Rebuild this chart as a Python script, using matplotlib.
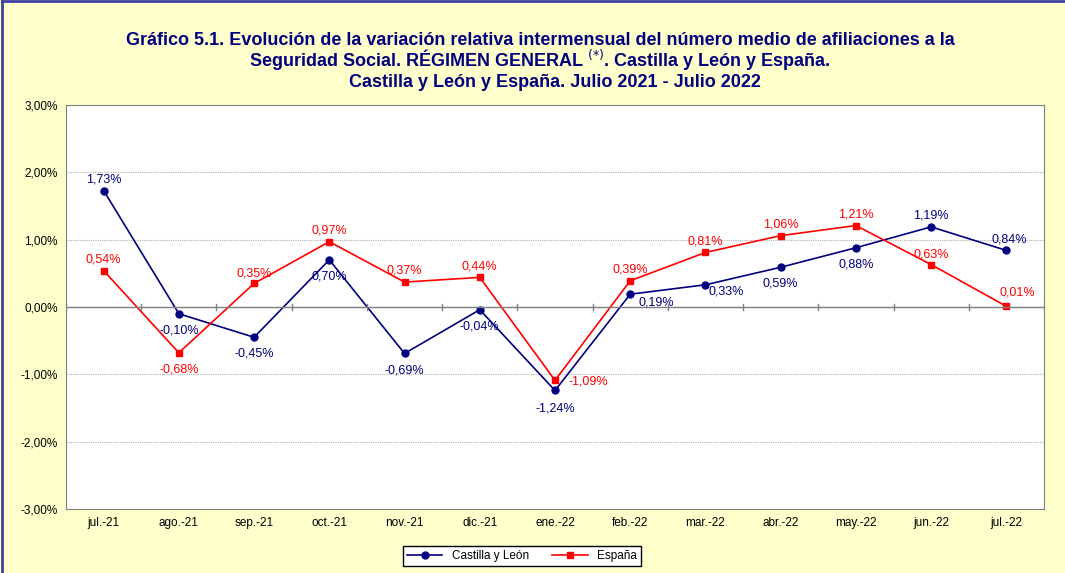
import matplotlib.pyplot as plt
from matplotlib.ticker import FuncFormatter

plt.rcParams['font.family'] = ['Liberation Sans', 'DejaVu Sans']

meses = ["jul.-21", "ago.-21", "sep.-21", "oct.-21", "nov.-21", "dic.-21", "ene.-22",
         "feb.-22", "mar.-22", "abr.-22", "may.-22", "jun.-22", "jul.-22"]
cyl = [1.73, -0.10, -0.45, 0.70, -0.69, -0.04, -1.24, 0.19, 0.33, 0.59, 0.88, 1.19, 0.84]
esp = [0.54, -0.68, 0.35, 0.97, 0.37, 0.44, -1.09, 0.39, 0.81, 1.06, 1.21, 0.63, 0.01]

# posicion de las etiquetas (offset en puntos)
pos_cyl = [(0, 8), (0, -12), (0, -12), (0, -12), (0, -12), (0, -12), (0, -13),
           (19, -6), (15, -5), (0, -12), (0, -12), (0, 8), (2, 8)]
pos_esp = [(0, 8), (0, -12), (0, 7), (0, 8), (0, 8), (0, 8), (24, -1),
           (0, 8), (0, 8), (0, 8), (0, 8), (0, 7), (8, 10)]

azul = "#000080"
rojo = "#FF0000"

fig = plt.figure(figsize=(10.65, 5.73), dpi=100, facecolor="#FFFFCC")
ax = fig.add_axes([66/1065, 1 - 509/573, (1044-66)/1065, (509-105)/573])

x = list(range(len(meses)))
ax.plot(x, cyl, color=azul, marker="o", markersize=5, lw=1.2, label="Castilla y León")
ax.plot(x, esp, color=rojo, marker="s", markersize=5, lw=1.2, label="España")

def pct(v):
    return ("%.2f%%" % v).replace(".", ",")

for i in x:
    ax.annotate(pct(cyl[i]), (i, cyl[i]), xytext=pos_cyl[i], textcoords="offset points",
                ha="center", va="center", fontsize=9, color=azul)
    ax.annotate(pct(esp[i]), (i, esp[i]), xytext=pos_esp[i], textcoords="offset points",
                ha="center", va="center", fontsize=9, color=rojo)

ax.set_xlim(-0.5, len(meses) - 0.5)
ax.set_ylim(-3, 3)
ax.set_yticks([-3, -2, -1, 0, 1, 2, 3])
ax.yaxis.set_major_formatter(FuncFormatter(lambda v, p: pct(v)))
ax.set_xticks(x)
ax.set_xticklabels(meses)
ax.tick_params(labelsize=8.5, length=0, pad=6)
ax.grid(axis="y", color="#B0B0B0", linestyle=(0, (1, 1)), lw=0.8)
ax.axhline(0, color="#808080", lw=1)
for b in range(len(meses) + 1):
    ax.plot([b - 0.5, b - 0.5], [-0.05, 0.05], color="#808080", lw=1)
for s in ax.spines.values():
    s.set_color("#808080")

titulo = dict(ha="center", va="baseline", fontsize=13, fontweight="bold", color=azul)
fig.text(540/1065, 1 - 45/573,
         "Gráfico 5.1. Evolución de la variación relativa intermensual del número medio de afiliaciones a la",
         **titulo)
fig.text(540/1065, 1 - 66/573,
         "Seguridad Social. RÉGIMEN GENERAL $^{(*)}$. Castilla y León y España.", **titulo)
fig.text(555/1065, 1 - 87/573, "Castilla y León y España. Julio 2021 - Julio 2022", **titulo)

fig.legend(loc="center", bbox_to_anchor=(522/1065, 1 - 556/573), ncol=2, fontsize=8.5,
           frameon=True, fancybox=False, edgecolor="black", framealpha=1, borderpad=0.3,
           handlelength=3, columnspacing=2)

fig.add_artist(plt.Line2D([0.002, 0.002], [0, 0.998], color="#4040A0", lw=2))
fig.add_artist(plt.Line2D([0.002, 1], [0.998, 0.998], color="#4040A0", lw=2))

fig.savefig("out.png", dpi=100, facecolor=fig.get_facecolor())
